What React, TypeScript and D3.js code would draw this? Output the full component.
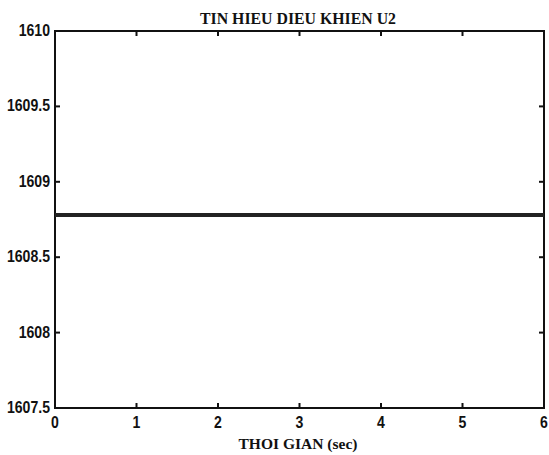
import { useEffect, useRef } from "react";
import * as d3 from "d3";

const timePoints = [0, 1, 2, 3, 4, 5, 6];
const signalU2 = [1608.78, 1608.78, 1608.78, 1608.78, 1608.78, 1608.78, 1608.78];
const yTicks = [1607.5, 1608, 1608.5, 1609, 1609.5, 1610];
const xTicks = [0, 1, 2, 3, 4, 5, 6];

const App = () => {
  const svgRef = useRef<SVGSVGElement>(null);
  const width = 549;
  const height = 455;
  const margin = { top: 31, right: 5, bottom: 47, left: 55 };

  useEffect(() => {
    const svg = d3.select(svgRef.current);
    svg.selectAll("*").remove();

    const x = d3.scaleLinear().domain([0, 6]).range([margin.left, width - margin.right]);
    const y = d3.scaleLinear().domain([1607.5, 1610]).range([height - margin.bottom, margin.top]);
    const tick = 5;

    svg.append("rect").attr("width", width).attr("height", height).attr("fill", "#fff");

    const frame = svg.append("g").attr("stroke", "#111").attr("stroke-width", 2);
    frame
      .append("rect")
      .attr("x", x(0))
      .attr("y", y(1610))
      .attr("width", x(6) - x(0))
      .attr("height", y(1607.5) - y(1610))
      .attr("fill", "none");

    // inward ticks on all four sides
    xTicks.forEach((t) => {
      frame.append("line").attr("x1", x(t)).attr("x2", x(t)).attr("y1", y(1607.5)).attr("y2", y(1607.5) - tick);
      frame.append("line").attr("x1", x(t)).attr("x2", x(t)).attr("y1", y(1610)).attr("y2", y(1610) + tick);
    });
    yTicks.forEach((t) => {
      frame.append("line").attr("x1", x(0)).attr("x2", x(0) + tick).attr("y1", y(t)).attr("y2", y(t));
      frame.append("line").attr("x1", x(6)).attr("x2", x(6) - tick).attr("y1", y(t)).attr("y2", y(t));
    });

    const labelFont = "'Liberation Sans', Arial, sans-serif";
    yTicks.forEach((t) => {
      svg
        .append("text")
        .attr("transform", `translate(${x(0) - 5},${y(t) + 5}) scale(0.88,1)`)
        .attr("text-anchor", "end")
        .attr("font-family", labelFont)
        .attr("font-weight", "bold")
        .attr("font-size", 16)
        .attr("fill", "#111")
        .text(d3.format("")(t));
    });
    xTicks.forEach((t) => {
      svg
        .append("text")
        .attr("transform", `translate(${x(t)},${y(1607.5) + 20}) scale(0.88,1)`)
        .attr("text-anchor", "middle")
        .attr("font-family", labelFont)
        .attr("font-weight", "bold")
        .attr("font-size", 16)
        .attr("fill", "#111")
        .text(t);
    });

    const line = d3
      .line<number>()
      .x((_, i) => x(timePoints[i]))
      .y((d) => y(d));
    svg
      .append("path")
      .datum(signalU2)
      .attr("d", line)
      .attr("fill", "none")
      .attr("stroke", "#222")
      .attr("stroke-width", 4);

    svg
      .append("text")
      .attr("x", 298)
      .attr("y", 24)
      .attr("text-anchor", "middle")
      .attr("font-family", "'Liberation Serif', 'Times New Roman', serif")
      .attr("font-weight", "bold")
      .attr("font-size", 16)
      .attr("textLength", 196)
      .attr("lengthAdjust", "spacingAndGlyphs")
      .attr("fill", "#111")
      .text("TIN HIEU DIEU KHIEN U2");

    svg
      .append("text")
      .attr("x", 298)
      .attr("y", 449)
      .attr("text-anchor", "middle")
      .attr("font-family", "'Liberation Serif', 'Times New Roman', serif")
      .attr("font-weight", "bold")
      .attr("font-size", 15.5)
      .attr("textLength", 119)
      .attr("lengthAdjust", "spacingAndGlyphs")
      .attr("fill", "#111")
      .text("THOI GIAN (sec)");
  }, []);

  return (
    <div style={{ position: "absolute", left: 0, top: 0 }}>
      <svg ref={svgRef} width={width} height={height} style={{ display: "block" }} />
    </div>
  );
};

export default App;
